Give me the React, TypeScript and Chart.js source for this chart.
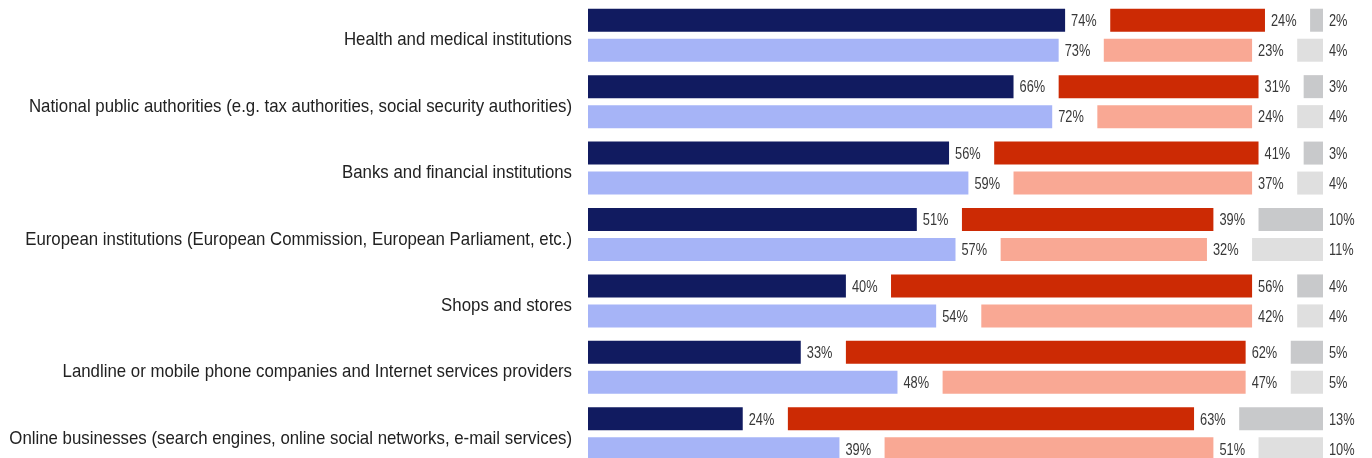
import React, { useEffect, useRef } from "react";
import { Chart, registerables } from "chart.js";

Chart.register(...registerables);

const categories = [
  "Health and medical institutions",
  "National public authorities (e.g. tax authorities, social security authorities)",
  "Banks and financial institutions",
  "European institutions (European Commission, European Parliament, etc.)",
  "Shops and stores",
  "Landline or mobile phone companies and Internet services providers",
  "Online businesses (search engines, online social networks, e-mail services)",
];

// Current wave
const trustNow = [74, 66, 56, 51, 40, 33, 24];
const distrustNow = [24, 31, 41, 39, 56, 62, 63];
const dkNow = [2, 3, 3, 10, 4, 5, 13];

// Previous wave
const trustPrev = [73, 72, 59, 57, 54, 48, 39];
const distrustPrev = [23, 24, 37, 32, 42, 47, 51];
const dkPrev = [4, 4, 4, 11, 4, 5, 10];

const GAP = 7; // room left for the value label between segments

const FONT = '"Liberation Sans", Arial, sans-serif';

export default function App() {
  const ref = useRef<HTMLCanvasElement | null>(null);

  useEffect(() => {
    document.body.style.margin = "0";
    const canvas = ref.current;
    if (!canvas) return;

    const seg = (label: string, data: number[], color: string, stack: string) => ({
      label,
      data,
      backgroundColor: color,
      stack,
      categoryPercentage: 0.903,
      barPercentage: 0.767,
      isValue: true,
    });
    const spacer = (stack: string) => ({
      label: "",
      data: categories.map(() => GAP),
      backgroundColor: "rgba(0,0,0,0)",
      stack,
      categoryPercentage: 0.903,
      barPercentage: 0.767,
      isValue: false,
    });

    const labelPlugin = {
      id: "valueLabels",
      afterDatasetsDraw(chart: any) {
        const ctx = chart.ctx;
        // value labels (narrow)
        const vSize = 16;
        const vScale = 0.8;
        ctx.save();
        ctx.font = `${vSize}px ${FONT}`;
        ctx.fillStyle = "#383838";
        ctx.textAlign = "left";
        ctx.textBaseline = "alphabetic";
        chart.data.datasets.forEach((ds: any, di: number) => {
          if (!ds.isValue) return;
          const meta = chart.getDatasetMeta(di);
          meta.data.forEach((el: any, i: number) => {
            const x = el.x + 6;
            const y = el.y + vSize * 0.358;
            ctx.save();
            ctx.translate(x, y);
            ctx.scale(vScale, 1);
            ctx.fillText(`${ds.data[i]}%`, 0, 0);
            ctx.restore();
          });
        });
        ctx.restore();

        // category labels
        const cSize = 18.5;
        const cScale = 0.909;
        const yScale = chart.scales.y;
        const right = chart.chartArea.left - 16;
        ctx.save();
        ctx.font = `${cSize}px ${FONT}`;
        ctx.fillStyle = "#222222";
        ctx.textAlign = "right";
        ctx.textBaseline = "alphabetic";
        categories.forEach((c, i) => {
          const y = yScale.getPixelForValue(i) + 10;
          ctx.save();
          ctx.translate(right, y);
          ctx.scale(cScale, 1);
          ctx.fillText(c, 0, 0);
          ctx.restore();
        });
        ctx.restore();
      },
    };

    const chart = new Chart(canvas, {
      type: "bar",
      data: {
        labels: categories,
        datasets: [
          seg("Trust", trustNow, "#111b60", "now"),
          spacer("now"),
          seg("Do not trust", distrustNow, "#cc2a04", "now"),
          spacer("now"),
          seg("Don't know", dkNow, "#c8c9cb", "now"),
          seg("Trust (previous)", trustPrev, "#a6b4f7", "prev"),
          spacer("prev"),
          seg("Do not trust (previous)", distrustPrev, "#f9a894", "prev"),
          spacer("prev"),
          seg("Don't know (previous)", dkPrev, "#dfdfdf", "prev"),
        ] as any,
      },
      options: {
        indexAxis: "y",
        animation: false,
        responsive: false,
        maintainAspectRatio: false,
        layout: { padding: { top: 2, right: 49, bottom: 0, left: 588 } },
        plugins: {
          legend: { display: false },
          tooltip: { enabled: false },
        },
        scales: {
          x: {
            stacked: true,
            min: 0,
            max: 100 + 2 * GAP,
            display: false,
          },
          y: {
            stacked: true,
            display: false,
          },
        },
      },
      plugins: [labelPlugin],
    });

    return () => chart.destroy();
  }, []);

  return (
    <div style={{ width: 1372, height: 458, overflow: "hidden", background: "#fff" }}>
      <canvas ref={ref} width={1372} height={467} style={{ display: "block" }} />
    </div>
  );
}
